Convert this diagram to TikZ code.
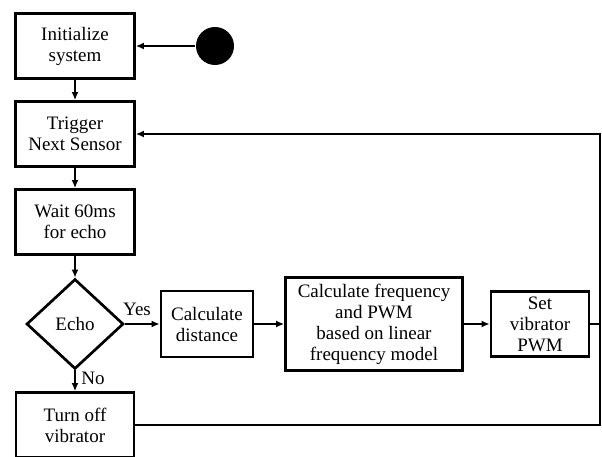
\documentclass[tikz,border=0pt]{standalone}
\usepackage{fontspec}
\setmainfont{Liberation Serif}
\usetikzlibrary{shapes.geometric, arrows.meta, positioning}

\begin{document}
\begin{tikzpicture}[x=1pt, y=-1pt, line width=2.7pt, >={Latex[length=8pt, width=7pt]},
  box/.style={draw, align=center, inner sep=2pt, font=\fontsize{19}{21}\selectfont},
  decision/.style={draw, diamond, inner sep=0pt, minimum width=97pt, minimum height=90pt, font=\fontsize{19}{21}\selectfont},
  tag/.style={font=\fontsize{19}{21}\selectfont}]
\useasboundingbox (0,0) rectangle (602,457);
% left column
\node[box, minimum width=119pt, minimum height=65pt] (init) at (75,46) {Initialize\\system};
\node[circle, fill, minimum size=38pt, inner sep=0pt] (start) at (215,46) {};
\node[box, minimum width=119pt, minimum height=65pt] (trigger) at (75,134) {Trigger\\Next Sensor};
\node[box, minimum width=119pt, minimum height=65pt] (wait) at (75,222) {Wait 60ms\\for echo};
\node[decision] (echo) at (75,324) {Echo};
\node[box, minimum width=118pt, minimum height=65pt] (off) at (75,425) {Turn off\\vibrator};
% middle row
\node[box, minimum width=92pt, minimum height=66pt] (dist) at (207,324) {Calculate\\distance};
\node[box, minimum width=177pt, minimum height=93pt] (freq) at (374,324) {Calculate frequency\\and PWM\\based on linear\\frequency model};
\node[box, minimum width=98pt, minimum height=65pt] (pwm) at (540,324) {Set\\vibrator\\PWM};
\coordinate (rail) at (600,134);
% connectors
\draw[->] (start) -- (init);
\draw[->] (init) -- (trigger);
\draw[->] (trigger) -- (wait);
\draw[->] (wait) -- (echo);
\draw[->] (echo) -- node[tag, right, pos=0.4, inner xsep=5pt] {No} (off);
\draw[->] (echo) -- node[tag, above, pos=0.35, inner sep=7pt] {Yes} (dist);
\draw[->] (dist) -- (freq);
\draw[->] (freq) -- (pwm);
\draw[->] (pwm.east) -| (rail) -- (trigger.east);
\draw (off.east) -| (rail);
\end{tikzpicture}
\end{document}
